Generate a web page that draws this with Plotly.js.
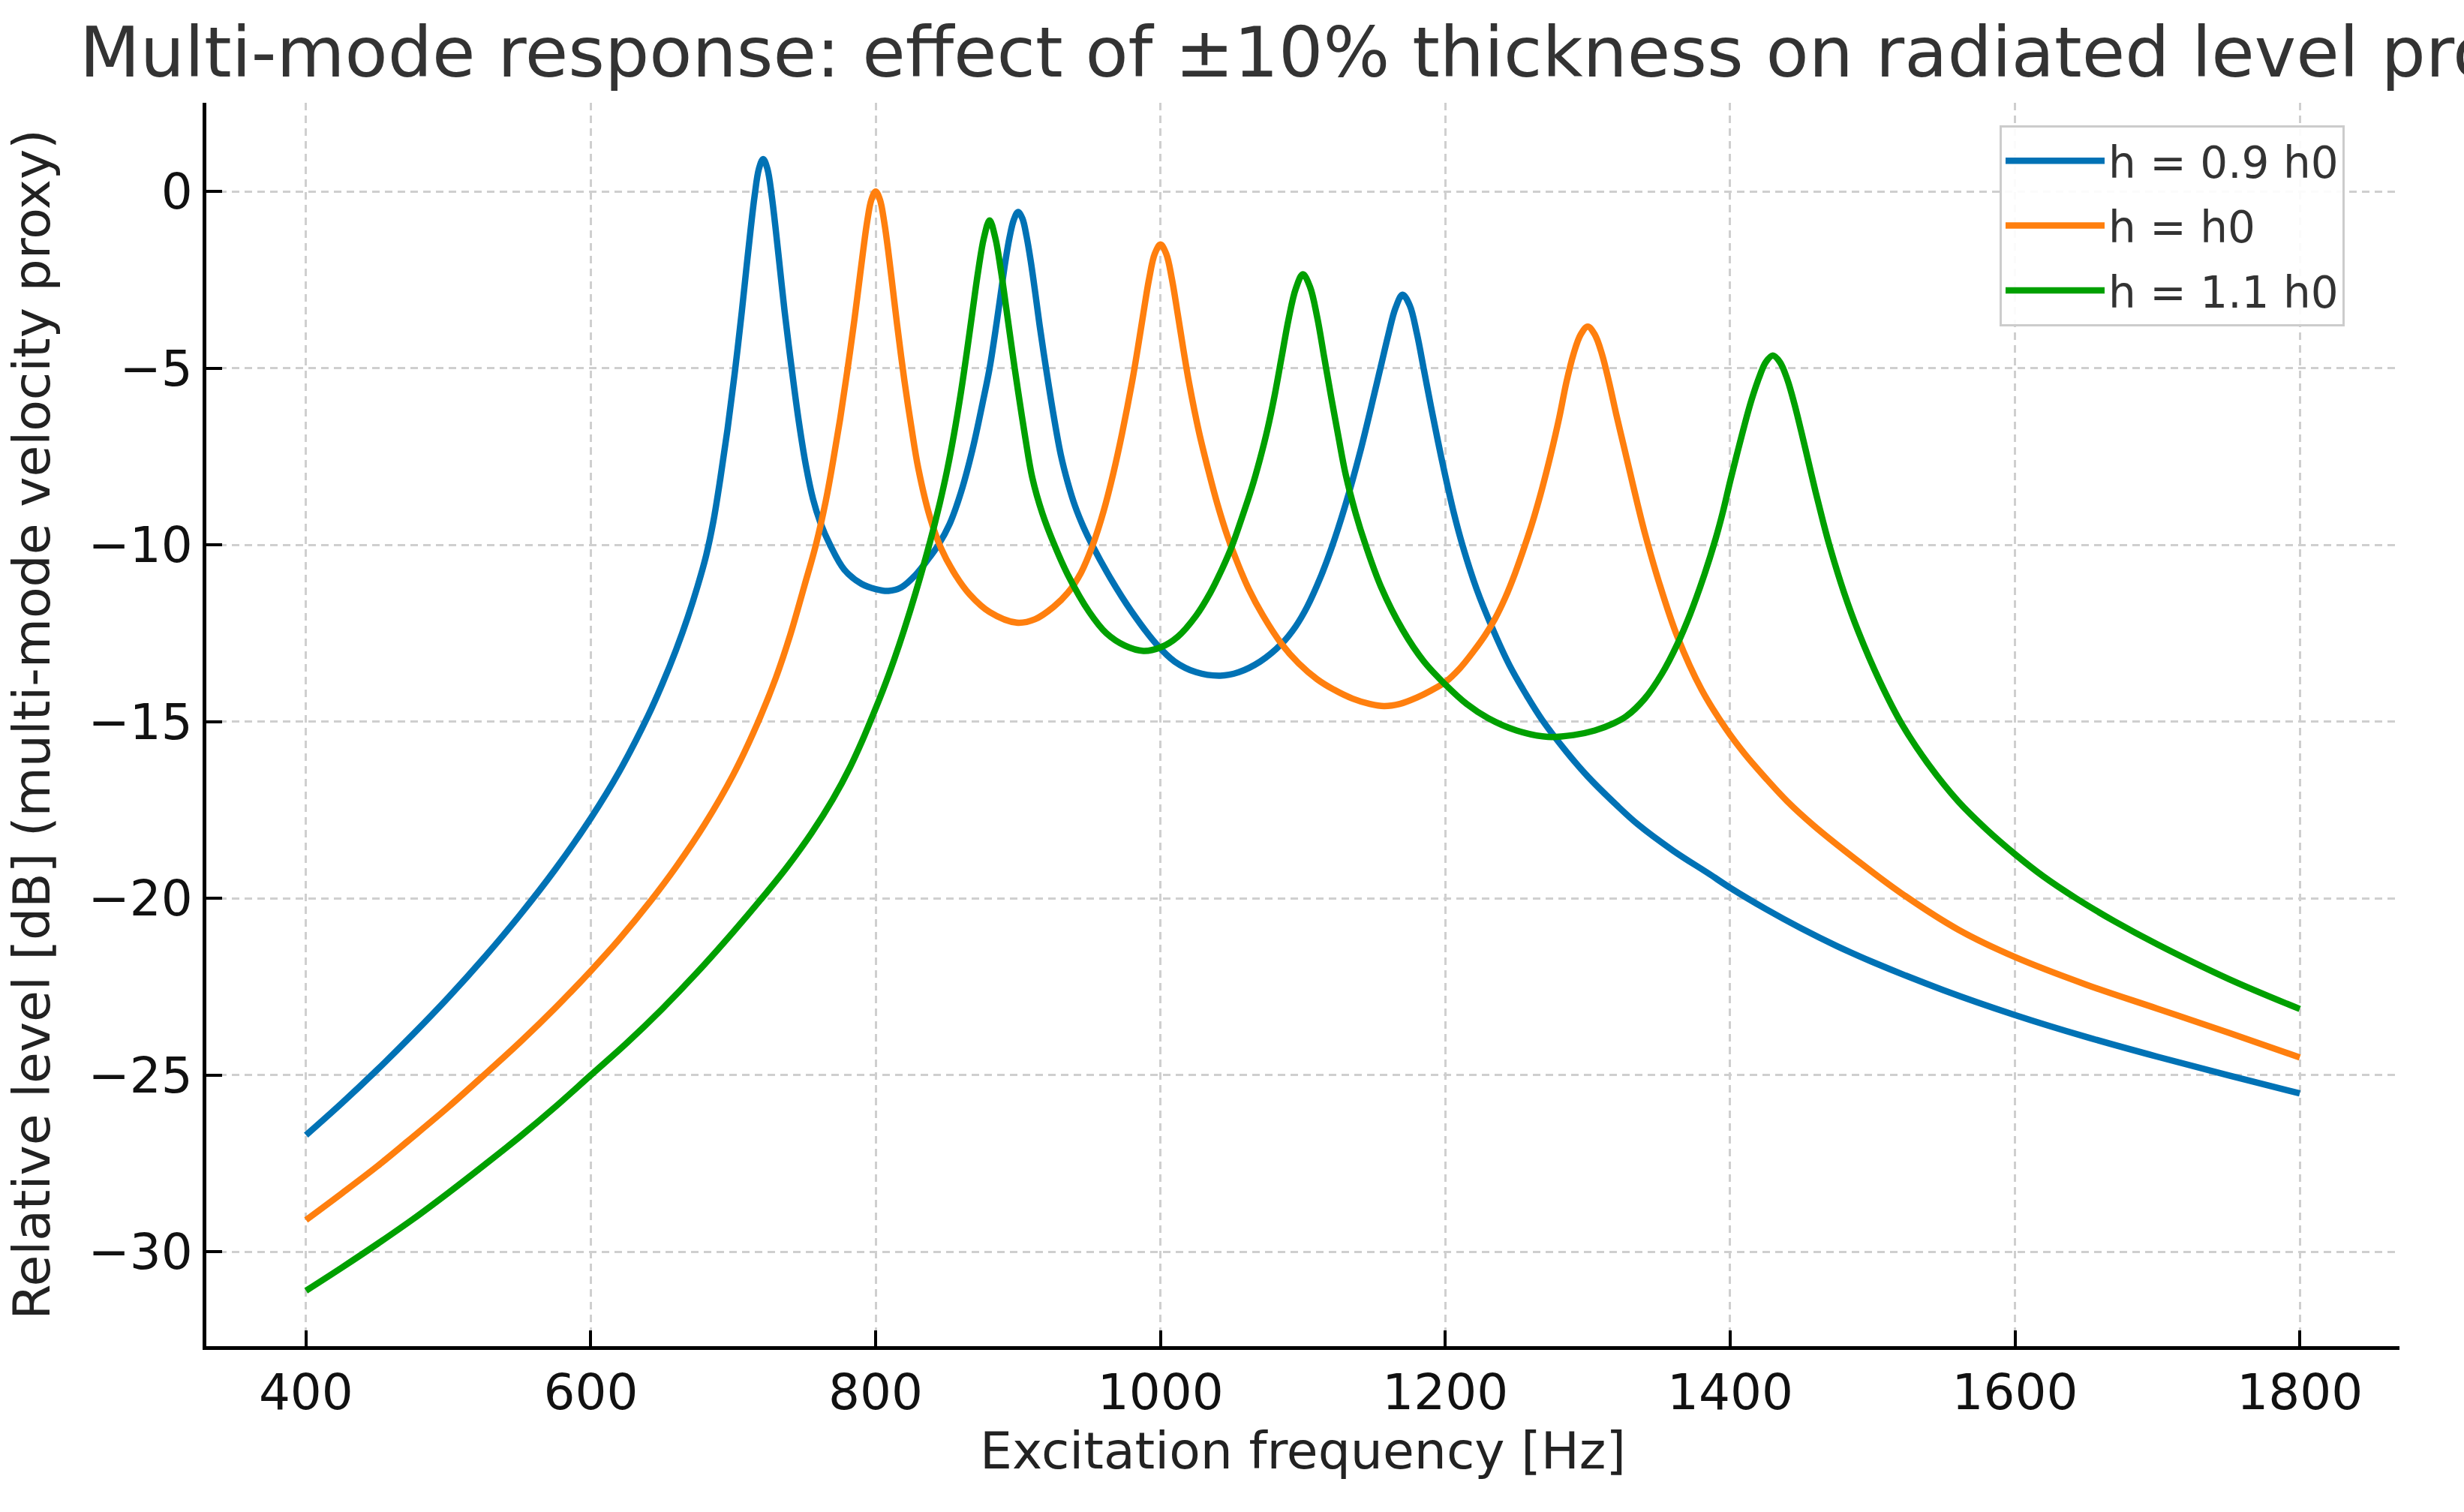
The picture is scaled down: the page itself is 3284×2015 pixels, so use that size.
<!DOCTYPE html>
<html>
<head>
<meta charset="utf-8">
<script src="https://cdn.plot.ly/plotly-3.0.1.min.js"></script>
<style>html,body{margin:0;padding:0;background:#fff;}#chart{width:3284px;height:2015px;}</style>
</head>
<body>
<div id="chart"></div>
<script>
// Series names
const seriesNames = ["h = 0.9 h0", "h = h0", "h = 1.1 h0"];

// h = 0.9 h0 (blue)
const freqThin = [400,425,450,475,500,525,550,575,600,620,640,650,660,668,675,681,686,691,696,701,706,709,712,715,718,721,724,727,730,733,736,741,746,751,756,761,768,778,790,800,809,818,828,836,844,852,860,868,875,880,885,888,891,894,897,900,903,906,909,912,915,920,925,930,935,940,946,952,965,980,997,1010,1025,1042,1055,1070,1085,1095,1103,1112,1120,1130,1140,1150,1155,1160,1165,1170,1175,1180,1185,1190,1195,1200,1206,1212,1222,1233,1245,1257,1268,1285,1300,1320,1335,1360,1385,1400,1425,1450,1475,1500,1550,1600,1650,1700,1750,1800];
const levelThin = [-26.7,-25.8,-24.85,-23.85,-22.8,-21.68,-20.48,-19.18,-17.73,-16.41,-14.85,-13.95,-12.95,-12.05,-11.16,-10.29,-9.34,-8.1,-6.72,-5.15,-3.4,-2.26,-1.14,-0.12,0.64,0.92,0.64,-0.12,-1.14,-2.26,-3.37,-5.0,-6.5,-7.75,-8.7,-9.35,-10.0,-10.7,-11.1,-11.25,-11.3,-11.2,-10.85,-10.45,-10.0,-9.4,-8.5,-7.3,-6.0,-5.0,-3.7,-2.85,-2.0,-1.3,-0.8,-0.58,-0.76,-1.28,-2.0,-2.85,-3.75,-5.1,-6.35,-7.45,-8.25,-8.9,-9.5,-10.0,-10.95,-11.9,-12.8,-13.3,-13.6,-13.7,-13.6,-13.3,-12.8,-12.3,-11.75,-10.95,-10.1,-8.85,-7.4,-5.75,-4.9,-4.05,-3.3,-2.92,-3.22,-4.01,-5.05,-6.1,-7.1,-8.05,-9.1,-10.0,-11.25,-12.35,-13.4,-14.25,-14.95,-15.85,-16.55,-17.35,-17.9,-18.65,-19.3,-19.7,-20.3,-20.85,-21.35,-21.8,-22.6,-23.3,-23.92,-24.48,-25.01,-25.52];

// h = h0 (orange)
const freqNom = [400,425,450,475,500,525,550,575,600,620,642,660,680,700,717,730,740,750,758,765,770,775,780,785,788,791,794,797,800,803,806,809,812,815,820,825,830,838,846,856,866,880,899,912,925,935,944,952,960,967,973,980,984,988,992,996,1000,1004,1008,1012,1016,1020,1027,1034,1040,1047,1055,1062,1072,1085,1097,1110,1122,1135,1147,1157,1168,1180,1190,1200,1210,1220,1228,1235,1242,1249,1256,1262,1268,1274,1280,1285,1290,1295,1300,1305,1310,1315,1320,1325,1330,1335,1340,1350,1363,1380,1397,1410,1425,1440,1459,1490,1520,1560,1600,1650,1700,1750,1800];
const levelNom = [-29.1,-28.35,-27.58,-26.75,-25.9,-25.0,-24.08,-23.1,-22.05,-21.15,-20.07,-19.1,-17.9,-16.5,-15.05,-13.75,-12.55,-11.15,-10.0,-8.75,-7.65,-6.45,-5.1,-3.65,-2.7,-1.74,-0.86,-0.23,0.0,-0.23,-0.86,-1.74,-2.74,-3.75,-5.3,-6.65,-7.85,-9.2,-10.1,-10.85,-11.4,-11.9,-12.2,-12.1,-11.75,-11.35,-10.8,-10.05,-9.05,-7.95,-6.85,-5.4,-4.45,-3.44,-2.47,-1.76,-1.5,-1.76,-2.47,-3.44,-4.45,-5.4,-6.8,-7.95,-8.85,-9.75,-10.6,-11.25,-12.0,-12.8,-13.35,-13.8,-14.1,-14.35,-14.5,-14.56,-14.5,-14.32,-14.12,-13.88,-13.5,-13.0,-12.55,-12.08,-11.5,-10.8,-10.0,-9.25,-8.4,-7.45,-6.4,-5.4,-4.6,-4.05,-3.82,-4.05,-4.6,-5.4,-6.3,-7.15,-8.0,-8.85,-9.65,-11.05,-12.6,-14.1,-15.2,-15.9,-16.6,-17.25,-17.95,-18.95,-19.85,-20.88,-21.66,-22.44,-23.12,-23.8,-24.5];

// h = 1.1 h0 (green)
const freqThick = [400,425,450,475,500,525,550,575,600,625,650,675,700,720,738,755,770,782,791,797,805,813,820,828,838,845,850,855,860,864,868,872,876,880,884,888,892,896,900,905,910,917,925,935,950,962,975,988,1000,1012,1025,1035,1043,1050,1057,1064,1070,1075,1080,1085,1090,1095,1100,1105,1110,1115,1120,1125,1130,1137,1144,1155,1170,1185,1200,1215,1230,1250,1272,1290,1305,1318,1327,1340,1352,1363,1372,1381,1390,1395,1400,1405,1410,1415,1420,1425,1430,1435,1440,1445,1450,1455,1460,1465,1470,1480,1490,1505,1521,1540,1560,1580,1600,1620,1643,1670,1700,1750,1800];
const levelThick = [-31.1,-30.45,-29.78,-29.08,-28.33,-27.55,-26.75,-25.9,-25.0,-24.1,-23.13,-22.08,-20.95,-20.0,-19.1,-18.15,-17.19,-16.29,-15.5,-14.92,-14.12,-13.24,-12.4,-11.36,-9.94,-8.82,-7.92,-6.87,-5.65,-4.55,-3.39,-2.25,-1.31,-0.82,-1.31,-2.25,-3.39,-4.55,-5.65,-6.95,-8.1,-9.1,-9.95,-10.85,-11.9,-12.5,-12.85,-13.0,-12.9,-12.6,-12.0,-11.35,-10.7,-10.05,-9.25,-8.4,-7.55,-6.75,-5.8,-4.7,-3.6,-2.75,-2.34,-2.7,-3.55,-4.7,-5.85,-6.95,-8.0,-9.1,-10.0,-11.2,-12.4,-13.3,-13.95,-14.5,-14.9,-15.25,-15.43,-15.38,-15.25,-15.05,-14.85,-14.35,-13.65,-12.8,-11.95,-10.95,-9.8,-9.05,-8.2,-7.4,-6.62,-5.9,-5.3,-4.83,-4.64,-4.83,-5.3,-5.99,-6.8,-7.65,-8.5,-9.3,-10.05,-11.35,-12.45,-13.85,-15.1,-16.25,-17.25,-18.05,-18.75,-19.38,-20.0,-20.65,-21.3,-22.28,-23.13];

// Axis ticks
const xTickVals = [400,600,800,1000,1200,1400,1600,1800];
const xTickText = ["400","600","800","1000","1200","1400","1600","1800"];
const yTickVals = [0,-5,-10,-15,-20,-25,-30];
const yTickText = ["0","\u22125","\u221210","\u221215","\u221220","\u221225","\u221230"];

const colors = ["#0072b5", "#ff7f0e", "#00a000"];
const FONT = "DejaVu Sans, Verdana, sans-serif";

function mk(x, y, i) {
  return {
    type: "scatter", mode: "lines", x: x, y: y, name: seriesNames[i],
    legendgroup: "g" + i,
    line: {color: colors[i], width: 8.5, shape: "spline", smoothing: 1.0}
  };
}
const data = [mk(freqThin, levelThin, 0), mk(freqNom, levelNom, 1), mk(freqThick, levelThick, 2)];

const axisCommon = {
  showline: true, linecolor: "#000", linewidth: 5, mirror: false,
  ticks: "inside", ticklen: 21, tickwidth: 4, tickcolor: "#000",
  showgrid: true, gridcolor: "#cfcfcf", gridwidth: 3, griddash: "10px,7px",
  zeroline: false, tickfont: {family: FONT, size: 66, color: "#111"},
  tickmode: "array"
};

const layout = {
  width: 3284, height: 2015,
  margin: {l: 275, r: 86, t: 137, b: 221, pad: 0},
  paper_bgcolor: "#fff", plot_bgcolor: "#fff",
  font: {family: FONT, color: "#222"},
  title: {
    text: "Multi-mode response: effect of \u00b110% thickness on radiated level proxy",
    font: {family: FONT, size: 93.5, color: "#333"},
    x: 0.5115, xref: "paper", xanchor: "center",
    y: 0.9658, yref: "container", yanchor: "middle"
  },
  xaxis: Object.assign({}, axisCommon, {
    range: [330, 1870], tickvals: xTickVals, ticktext: xTickText,
    title: {text: "Excitation frequency [Hz]", font: {family: FONT, size: 68, color: "#222"}, standoff: 18}
  }),
  yaxis: Object.assign({}, axisCommon, {
    range: [-32.67, 2.51], tickvals: yTickVals, ticktext: yTickText,
    title: {text: "Relative level [dB] (multi-mode velocity proxy)", font: {family: FONT, size: 68, color: "#222"}, standoff: 30}
  }),
  showlegend: true,
  legend: {
    x: (2665 - 275) / 2923, xanchor: "left", y: 1 - (167 - 137) / 1657.6, yanchor: "top",
    font: {family: FONT, size: 58, color: "#333"},
    bgcolor: "rgba(255,255,255,0.9)", bordercolor: "#cccccc", borderwidth: 3,
    itemwidth: 132, tracegroupgap: 8
  }
};

Plotly.newPlot("chart", data, layout, {staticPlot: true, displayModeBar: false});
</script>
</body>
</html>
